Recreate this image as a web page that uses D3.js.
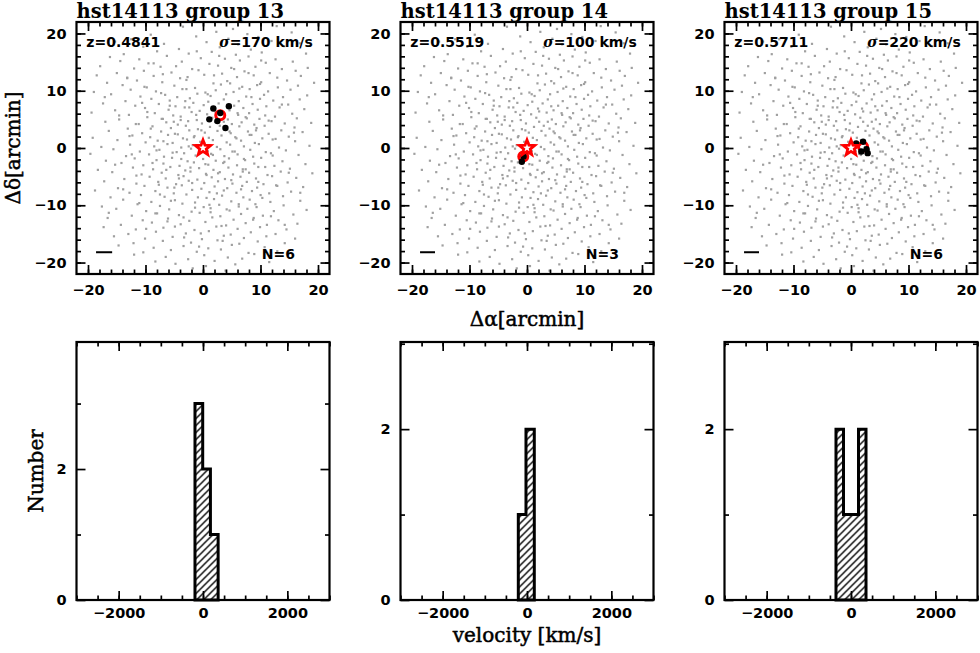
<!DOCTYPE html>
<html><head><meta charset="utf-8">
<script src="https://cdn.jsdelivr.net/npm/d3@7"></script>
<style>body{margin:0;background:#fff}</style>
</head><body>
<svg id="c" width="980" height="653"></svg>
<script>
const groupNames = ["hst14113 group 13","hst14113 group 14","hst14113 group 15"];
const redshifts = ["0.4841","0.5519","0.5711"];
const sigmas = [170,100,220];
const nMembers = [6,3,6];
const scaleBarLen = [2.8,2.6,2.6];
const members13 = [[1.8,6.9],[4.5,7.3],[1.1,5.0],[3.9,3.5],[2.5,4.7],[3.0,6.1]];
const members14 = [[-0.05,-0.35],[-0.9,-2.4],[-0.6,-1.5]];
const members15 = [[0.9,0.8],[2.1,1.1],[2.9,-0.9],[1.8,-0.6],[2.7,-0.2],[0.4,0.4]];
const centroids = [[3.0,5.7],[-0.65,-1.5],[2.1,0.2]];
const lensPos = [0,0];
const binEdges13 = [-190,-7,176,359];      const counts13 = [3,2,1];
const binEdges14 = [-206,-24,173];         const counts14 = [1,2];
const binEdges15 = [-356,-178,0,178,356];  const counts15 = [2,1,1,2];
const histMax = [3.94,3.02,3.02];
const posTicks = [-20,-10,0,10,20];
const posMinor = d3.range(-20,21,2);
const velTicks = [-2000,0,2000];
const velMinor = d3.range(-3000,3001,500);
const countMajor = [0,2];
const countMinor = [1,3];
const field = [
[-3.5,21.2],[5.2,20.8],[12.8,21.3],
[-9.1,19.8],[2.3,20.3],[7.7,19.9],[15.4,20.2],
[-12.5,19.0],[-1.2,19.5],[4.4,19.1],[9.6,19.4],
[-15.3,18.6],[-6.8,18.2],[0.6,18.5],[6.1,18.1],[11.9,18.7],[16.8,18.3],
[-10.4,17.7],[-4.2,17.3],[2.9,17.6],[8.3,17.2],[14.1,17.8],
[-13.8,16.4],[-8.0,16.9],[-2.5,16.5],[1.5,16.8],[5.7,16.3],[10.2,16.7],[17.9,16.5],
[-16.2,15.9],[-11.1,15.5],[-6.3,16.1],[-0.4,15.7],[3.8,15.6],[7.9,16.0],[12.6,15.5],
[-14.4,15.2],[-9.5,14.8],[-3.7,15.1],[1.1,14.7],[6.4,15.3],[10.9,14.9],[15.6,15.1],
[-17.9,14.3],[-12.0,13.9],[-7.4,14.2],[-1.9,13.8],[2.6,14.4],[4.9,14.0],[9.1,14.2],[13.7,13.8],[18.2,14.0],
[-15.0,13.1],[-10.3,13.5],[-5.5,13.2],[-0.8,13.6],[3.3,13.0],[7.2,13.4],[11.6,13.1],[16.1,13.5],
[-18.5,12.7],[-13.2,12.3],[-8.6,12.6],[-4.0,12.2],[0.2,12.8],[5.9,12.4],[8.8,12.7],[12.9,12.3],[17.0,12.6],
[-16.7,11.4],[-11.5,11.8],[-7.1,11.5],[-2.9,11.9],[1.8,11.3],[4.2,11.7],[10.1,11.5],[14.6,11.8],[19.3,11.4],
[-14.0,11.0],[-9.8,10.6],[-5.0,10.9],[-1.4,10.5],[3.1,11.1],[6.8,10.7],[9.4,11.0],[13.0,10.6],[16.5,10.9],
[-19.0,9.8],[-12.6,10.2],[-8.2,9.9],[-3.6,10.3],[0.4,9.7],[2.2,10.1],[5.3,9.8],[8.1,10.3],[11.3,9.9],[15.2,10.2],
[-16.0,9.4],[-10.9,9.0],[-6.6,9.3],[-4.5,8.9],[-1.0,9.5],[1.3,9.1],[4.0,9.4],[7.5,9.0],[10.6,9.3],[13.9,8.9],[18.1,9.2],
[-13.5,8.2],[-9.0,8.6],[-5.8,8.3],[-2.3,8.7],[0.9,8.1],[3.6,8.5],[6.2,8.2],[9.9,8.6],[12.2,8.3],[16.8,8.5],
[-17.4,7.8],[-11.8,7.4],[-7.7,7.7],[-4.8,7.3],[-1.7,7.9],[0.1,7.5],[2.7,7.8],[5.4,7.4],[8.6,7.7],[11.0,7.3],[14.8,7.6],
[-15.3,6.6],[-10.1,7.0],[-6.0,6.7],[-3.2,7.1],[-0.6,6.5],[1.9,6.9],[4.6,6.6],[7.0,7.0],[9.5,6.7],[13.3,7.1],[17.6,6.8],
[-19.4,6.2],[-12.9,5.8],[-8.4,6.1],[-5.2,5.7],[-2.0,6.3],[0.7,5.9],[3.4,6.2],[6.1,5.8],[8.0,6.1],[10.8,5.7],[15.5,6.0],
[-14.6,5.0],[-9.7,5.4],[-7.0,5.1],[-3.9,5.5],[-1.1,4.9],[1.6,5.3],[4.3,5.0],[7.4,5.4],[9.8,5.1],[12.5,5.5],[16.3,5.2],
[-17.0,4.6],[-11.2,4.2],[-6.4,4.5],[-4.4,4.1],[-2.6,4.7],[-0.2,4.3],[2.1,4.6],[5.0,4.2],[6.7,4.5],[8.9,4.1],[11.9,4.7],[14.2,4.3],[18.8,4.4],
[-13.1,3.4],[-8.8,3.8],[-5.6,3.5],[-3.0,3.9],[-0.9,3.3],[1.2,3.7],[3.9,3.4],[6.3,3.8],[9.3,3.5],[10.7,3.9],[15.9,3.6],
[-16.4,3.0],[-10.6,2.6],[-7.3,2.9],[-4.9,2.5],[-2.4,3.1],[0.3,2.7],[2.5,3.0],[4.8,2.6],[7.8,2.9],[11.4,2.5],[13.6,3.1],[17.3,2.8],
[-19.2,1.8],[-12.3,2.2],[-9.2,1.9],[-6.1,2.3],[-3.5,1.7],[-1.5,2.1],[1.0,1.8],[3.2,2.2],[5.6,1.9],[8.4,2.3],[10.3,1.7],[14.9,2.0],
[-14.9,1.4],[-10.0,1.0],[-7.9,1.3],[-5.3,0.9],[-2.8,1.5],[-0.5,1.1],[1.7,1.4],[4.1,1.0],[6.6,1.3],[9.0,0.9],[12.1,1.5],[16.0,1.2],
[-17.7,0.2],[-12.7,0.6],[-8.5,0.3],[-6.2,0.7],[-3.8,0.1],[-1.8,0.5],[2.4,0.2],[4.7,0.6],[7.1,0.3],[9.7,0.7],[13.2,0.1],[18.5,0.4],
[-15.6,-0.2],[-11.0,-0.6],[-7.6,-0.3],[-4.6,-0.7],[-2.1,-0.1],[0.8,-0.5],[3.0,-0.2],[5.5,-0.6],[8.2,-0.3],[10.9,-0.7],[14.4,-0.4],
[-19.6,-1.0],[-13.4,-1.4],[-9.4,-1.1],[-6.8,-1.5],[-3.3,-0.9],[-1.3,-1.3],[1.4,-1.0],[3.7,-1.4],[6.0,-1.1],[8.7,-1.5],[11.8,-0.9],[16.6,-1.2],
[-16.9,-2.2],[-11.9,-1.8],[-8.1,-2.1],[-5.4,-1.7],[-2.7,-2.3],[0.0,-1.9],[2.2,-2.2],[4.5,-1.8],[7.3,-2.1],[10.1,-1.7],[13.8,-2.3],
[-14.2,-2.6],[-10.4,-3.0],[-6.9,-2.7],[-4.1,-3.1],[-1.6,-2.5],[0.9,-2.9],[3.5,-2.6],[5.9,-3.0],[8.9,-2.7],[12.4,-3.1],[17.8,-2.8],
[-18.3,-3.8],[-12.2,-3.4],[-8.7,-3.7],[-5.7,-3.3],[-3.1,-3.9],[-0.7,-3.5],[1.8,-3.8],[4.4,-3.4],[6.9,-3.7],[9.6,-3.3],[15.1,-3.6],
[-15.8,-4.2],[-10.7,-4.6],[-7.2,-4.3],[-4.3,-4.7],[-2.2,-4.1],[0.5,-4.5],[2.9,-4.2],[5.2,-4.6],[8.0,-4.3],[11.2,-4.7],[13.5,-4.1],[19.0,-4.4],
[-13.7,-5.4],[-9.3,-5.0],[-6.5,-5.3],[-3.4,-4.9],[-1.0,-5.5],[1.5,-5.1],[3.8,-5.4],[6.5,-5.0],[9.2,-5.3],[12.0,-4.9],[16.2,-5.2],
[-17.2,-5.8],[-11.6,-6.2],[-7.8,-5.9],[-4.7,-6.3],[-2.5,-5.7],[0.2,-6.1],[2.6,-5.8],[5.1,-6.2],[7.6,-5.9],[10.5,-6.3],[14.7,-6.0],
[-14.8,-7.0],[-10.2,-6.6],[-6.2,-6.9],[-3.7,-6.5],[-0.3,-7.1],[2.0,-6.7],[4.2,-7.0],[6.8,-6.6],[9.4,-6.9],[12.7,-6.5],[17.4,-6.8],
[-18.8,-7.4],[-12.8,-7.8],[-8.3,-7.5],[-5.1,-7.9],[-1.9,-7.3],[1.1,-7.7],[3.6,-7.4],[5.8,-7.8],[8.5,-7.5],[11.5,-7.9],[15.3,-7.6],
[-16.1,-8.6],[-10.8,-8.2],[-6.7,-8.5],[-2.9,-8.1],[0.6,-8.7],[3.3,-8.3],[7.0,-8.6],[10.0,-8.2],[13.9,-8.4],
[-13.9,-9.0],[-9.0,-9.4],[-4.9,-9.1],[-1.4,-9.5],[1.9,-8.9],[4.9,-9.3],[8.1,-9.0],[11.7,-9.4],[16.9,-9.2],
[-17.6,-10.2],[-11.4,-9.8],[-7.5,-10.1],[-3.6,-9.7],[0.1,-10.3],[2.8,-9.9],[6.2,-10.2],[9.1,-9.8],[14.0,-10.0],
[-15.1,-10.6],[-9.9,-11.0],[-5.9,-10.7],[-2.0,-11.1],[1.3,-10.5],[4.6,-10.9],[7.7,-10.6],[12.3,-11.0],[18.0,-10.8],
[-12.4,-11.8],[-8.0,-11.4],[-4.2,-11.7],[-0.6,-11.3],[3.0,-11.9],[6.6,-11.5],[10.4,-11.8],[15.7,-11.6],
[-16.6,-12.2],[-10.5,-12.6],[-6.1,-12.3],[-2.4,-12.7],[1.6,-12.1],[5.3,-12.5],[8.8,-12.2],[13.1,-12.6],
[-14.3,-13.4],[-8.9,-13.0],[-3.9,-13.3],[0.4,-12.9],[4.0,-13.5],[7.4,-13.1],[11.1,-13.4],[16.4,-13.2],
[-17.3,-13.8],[-11.7,-14.2],[-6.9,-13.9],[-1.5,-14.3],[2.3,-13.7],[6.0,-14.1],[9.9,-13.8],[14.5,-14.2],
[-13.0,-15.0],[-8.2,-14.6],[-3.0,-14.9],[1.0,-14.5],[4.8,-15.1],[8.3,-14.7],[12.6,-15.0],
[-15.5,-15.4],[-10.1,-15.8],[-5.3,-15.5],[-0.2,-15.9],[3.6,-15.3],[7.1,-15.7],[11.0,-15.4],[16.0,-15.8],
[-12.1,-16.6],[-7.0,-16.2],[-2.1,-16.5],[2.5,-16.1],[6.3,-16.7],[9.5,-16.3],[14.2,-16.6],
[-14.7,-17.0],[-8.6,-17.4],[-3.4,-17.1],[0.9,-17.5],[5.0,-16.9],[10.7,-17.3],
[-10.4,-18.2],[-5.6,-17.8],[-1.1,-18.1],[3.1,-17.7],[7.9,-18.3],[12.9,-18.0],
[-12.0,-18.6],[-6.5,-19.0],[0.2,-18.7],[4.3,-19.1],[8.9,-18.5],
[-8.3,-19.8],[-2.6,-19.4],[2.0,-19.7],[6.8,-19.3],[11.5,-19.9],
[-4.8,-20.2],[0.5,-20.6],[5.6,-20.3],
[-1.8,-21.0],[3.9,-21.4]
];
const fieldExtra = [
[-7.3,9.6],[-3.1,8.2],[4.7,11.3],[9.2,3.1],[-8.8,-2.6],[2.4,-7.9],[-5.6,-9.2],[6.9,-4.1],[-1.2,5.8],[3.7,-2.4],
[-9.7,6.3],[8.4,8.9],[-4.2,-5.3],[1.3,-11.2],[-11.6,-4.8],[10.3,-8.7],[-2.7,12.4],[5.8,1.7],[-6.9,1.2],[0.6,-4.7],
[-3.8,-1.9],[7.6,5.2],[-10.2,10.7],[12.1,-1.3],[-0.9,-8.6],[4.2,7.3],[-7.7,-6.4],[2.9,3.9],[-12.8,2.1],[9.6,-5.9],
[-1.6,1.9],[6.2,-9.8],[-5.1,4.6],[11.4,4.8],[-8.3,-11.4],[0.8,9.4],[-13.9,-7.2],[3.2,-13.6],[-4.7,14.3],[13.7,7.6],
[-2.2,-3.4],[1.7,-1.2],[-0.3,3.1],[4.9,-5.6],[-6.4,-3.8],[7.1,-1.9],[-9.1,3.4],[2.1,6.4],[-3.4,-12.1],[5.4,13.8],
[-11.1,-9.6],[9.9,11.2],[-14.6,5.7],[14.9,-4.3],[-0.4,-14.9],[-7.0,12.9],[8.7,-12.5],[-12.4,-1.1],[12.6,1.6],[0.2,0.9],
[-1.9,-6.1],[3.6,4.6],[-5.8,7.4],[6.6,-7.2],[-8.1,-0.4],[10.8,-3.3],[-2.9,10.3],[1.1,-9.9],[-4.4,2.4],[5.1,-0.6],
[-6.2,-12.8],[7.9,13.1],[-15.3,-2.9],[15.8,2.7],[-9.9,-14.1],[11.8,-11.9],[-13.2,12.2],[2.8,16.1],[-0.7,-17.2],[16.9,-7.8],
[-17.1,8.9],[-3.3,-15.6],[6.3,10.4],[-10.6,7.9],[9.3,-10.3],[-7.5,-8.1],[4.1,-10.7],[-2.4,7.1],[1.9,12.7],[-5.3,-0.8],
[8.1,2.3],[-11.7,4.2],[12.9,-6.6],[-4.9,-13.7],[3.4,-16.2],[-8.6,14.8],[10.1,15.3],[-16.4,-11.3],[14.2,-13.4],[-1.1,16.9],
[0.4,-2.8],[-2.5,0.3],[2.6,-4.4],[-3.9,4.9],[4.6,2.9],[-1.4,-10.4],[6.0,6.1],[-7.2,5.1],[7.4,-3.7],[-5.0,-6.9]
];

const members = [members13, members14, members15];
const binEdges = [binEdges13, binEdges14, binEdges15];
const counts = [counts13, counts14, counts15];
const allField = field.concat(fieldExtra);

const svg = d3.select("#c");
const W = 253;
const panelLeft = [76.5, 400.5, 724.5];
const topY0 = 22, topY1 = 274;
const botY0 = 342, botY1 = 600;
const tickFont = "'DejaVu Sans', sans-serif";
const serif = "'DejaVu Serif', serif";

const defs = svg.append("defs");
const pat = defs.append("pattern").attr("id","hatch").attr("patternUnits","userSpaceOnUse")
  .attr("width",7).attr("height",7);
pat.append("path").attr("d","M-1,8 L8,-1 M-2,2 L2,-2 M5,9 L9,5")
  .attr("stroke","#000").attr("stroke-width",1.4).attr("fill","none");

function styleAxis(sel, labels) {
  sel.select(".domain").remove();
  sel.selectAll(".tick line").attr("stroke","#000").attr("stroke-width",1.7);
  sel.selectAll(".tick text").attr("font-family",tickFont).attr("font-weight","bold")
    .attr("font-size",14.5).attr("fill","#000");
  if (!labels) sel.selectAll(".tick text").remove();
}

function drawFrame(g, x, y, w, h, xMaj, xMin, yMaj, yMin, yLabelVals, xPad, yPad) {
  const fmtX = d => String(d).replace("-", "\u2212");
  const fmtY = d => (yLabelVals.includes(d) ? String(d).replace("-", "\u2212") : "");
  g.append("g").attr("transform",`translate(0,${h})`).call(d3.axisBottom(x).tickValues(xMin).tickSize(-4.5).tickFormat("")).call(s=>styleAxis(s,false));
  g.append("g").call(d3.axisTop(x).tickValues(xMin).tickSize(-4.5).tickFormat("")).call(s=>styleAxis(s,false));
  g.append("g").call(d3.axisLeft(y).tickValues(yMin).tickSize(-4.5).tickFormat("")).call(s=>styleAxis(s,false));
  g.append("g").attr("transform",`translate(${w},0)`).call(d3.axisRight(y).tickValues(yMin).tickSize(-4.5).tickFormat("")).call(s=>styleAxis(s,false));
  g.append("g").attr("transform",`translate(0,${h})`).call(d3.axisBottom(x).tickValues(xMaj).tickSize(-9).tickPadding(xPad).tickFormat(fmtX)).call(s=>styleAxis(s,true));
  g.append("g").call(d3.axisTop(x).tickValues(xMaj).tickSize(-9).tickFormat("")).call(s=>styleAxis(s,false));
  g.append("g").call(d3.axisLeft(y).tickValues(yMaj).tickSize(-9).tickPadding(yPad).tickFormat(fmtY)).call(s=>styleAxis(s,true));
  g.append("g").attr("transform",`translate(${w},0)`).call(d3.axisRight(y).tickValues(yMaj).tickSize(-9).tickFormat("")).call(s=>styleAxis(s,false));
  g.append("rect").attr("x",0).attr("y",0).attr("width",w).attr("height",h)
    .attr("fill","none").attr("stroke","#000").attr("stroke-width",2.2);
}

function starPath(cx, cy, R, r) {
  const pts = [];
  for (let i = 0; i < 10; i++) {
    const a = -Math.PI/2 + i*Math.PI/5;
    const rad = i % 2 === 0 ? R : r;
    pts.push([cx + rad*Math.cos(a), cy + rad*Math.sin(a)]);
  }
  return "M" + pts.map(p => p.join(",")).join("L") + "Z";
}

for (let i = 0; i < 3; i++) {
  const hT = topY1 - topY0;
  const x = d3.scaleLinear().domain([-22,22]).range([0,W]);
  const y = d3.scaleLinear().domain([-22,22]).range([hT,0]);
  const g = svg.append("g").attr("transform",`translate(${panelLeft[i]},${topY0})`);

  g.append("g").selectAll("rect").data(allField).join("rect")
    .attr("x", d => x(d[0]) - 1).attr("y", d => y(d[1]) - 1)
    .attr("width",2.2).attr("height",2.2).attr("fill","#a0a0a0");

  g.append("circle").attr("cx", x(centroids[i][0])).attr("cy", y(centroids[i][1]))
    .attr("r",4.5).attr("fill","none").attr("stroke","#f00").attr("stroke-width",3);
  g.append("g").selectAll("circle").data(members[i]).join("circle")
    .attr("cx", d => x(d[0])).attr("cy", d => y(d[1])).attr("r",3.2).attr("fill","#000");
  g.append("path").attr("d", starPath(x(lensPos[0]), y(lensPos[1]), 8, 3.4))
    .attr("fill","#fff").attr("stroke","#f00").attr("stroke-width",2.8).attr("stroke-linejoin","miter");

  g.append("line").attr("x1", x(-18.6)).attr("x2", x(-18.6 + scaleBarLen[i]))
    .attr("y1", y(-18.2)).attr("y2", y(-18.2)).attr("stroke","#000").attr("stroke-width",2);

  drawFrame(g, x, y, W, hT, posTicks, posMinor, posTicks, posMinor, posTicks, 11, 10);

  g.append("text").attr("x", x(-20.3)).attr("y", y(17.6))
    .attr("font-family",tickFont).attr("font-weight","bold").attr("font-size",14)
    .text("z=" + redshifts[i]);
  const st = g.append("text").attr("x", x(19.1)).attr("y", y(17.6)).attr("text-anchor","end")
    .attr("font-family",tickFont).attr("font-weight","bold").attr("font-size",14);
  st.append("tspan").attr("font-style","italic").attr("font-family",serif).text("\u03c3");
  st.append("tspan").text("=" + sigmas[i] + " km/s");
  g.append("text").attr("x", x(16)).attr("y", y(-19.3)).attr("text-anchor","end")
    .attr("font-family",tickFont).attr("font-weight","bold").attr("font-size",14)
    .text("N=" + nMembers[i]);

  svg.append("text").attr("x", panelLeft[i]).attr("y", 18)
    .attr("font-family",serif).attr("font-weight","bold").attr("font-size",19.5)
    .text(groupNames[i]);

  const hB = botY1 - botY0;
  const xv = d3.scaleLinear().domain([-3000,3000]).range([0,W]);
  const yc = d3.scaleLinear().domain([0,histMax[i]]).range([hB,0]);
  const gb = svg.append("g").attr("transform",`translate(${panelLeft[i]},${botY0})`);
  const e = binEdges[i], c = counts[i];
  const pts = [[xv(e[0]), yc(0)]];
  for (let k = 0; k < c.length; k++) {
    pts.push([xv(e[k]), yc(c[k])]);
    pts.push([xv(e[k+1]), yc(c[k])]);
  }
  pts.push([xv(e[e.length-1]), yc(0)]);
  gb.append("path").attr("d", d3.line()(pts) + "Z").attr("fill","url(#hatch)")
    .attr("stroke","#000").attr("stroke-width",3).attr("stroke-linejoin","miter");

  const cMin = countMinor.filter(v => v <= histMax[i]);
  const cMaj = countMajor.filter(v => v <= histMax[i]);
  drawFrame(gb, xv, yc, W, hB, velTicks, velMinor, cMaj, cMin, countMajor, 8, 10);
}

function axisTitle(sel) {
  return sel.attr("font-family",serif).attr("font-size",20).attr("fill","#000")
    .attr("stroke","#000").attr("stroke-width",0.5).attr("text-anchor","middle");
}
axisTitle(svg.append("text").attr("transform","translate(20,148) rotate(-90)")).text("\u0394\u03b4[arcmin]");
axisTitle(svg.append("text").attr("x",527).attr("y",326)).text("\u0394\u03b1[arcmin]");
axisTitle(svg.append("text").attr("transform","translate(43,471) rotate(-90)")).text("Number");
axisTitle(svg.append("text").attr("x",527).attr("y",642)).text("velocity [km/s]");
</script>
</body></html>
